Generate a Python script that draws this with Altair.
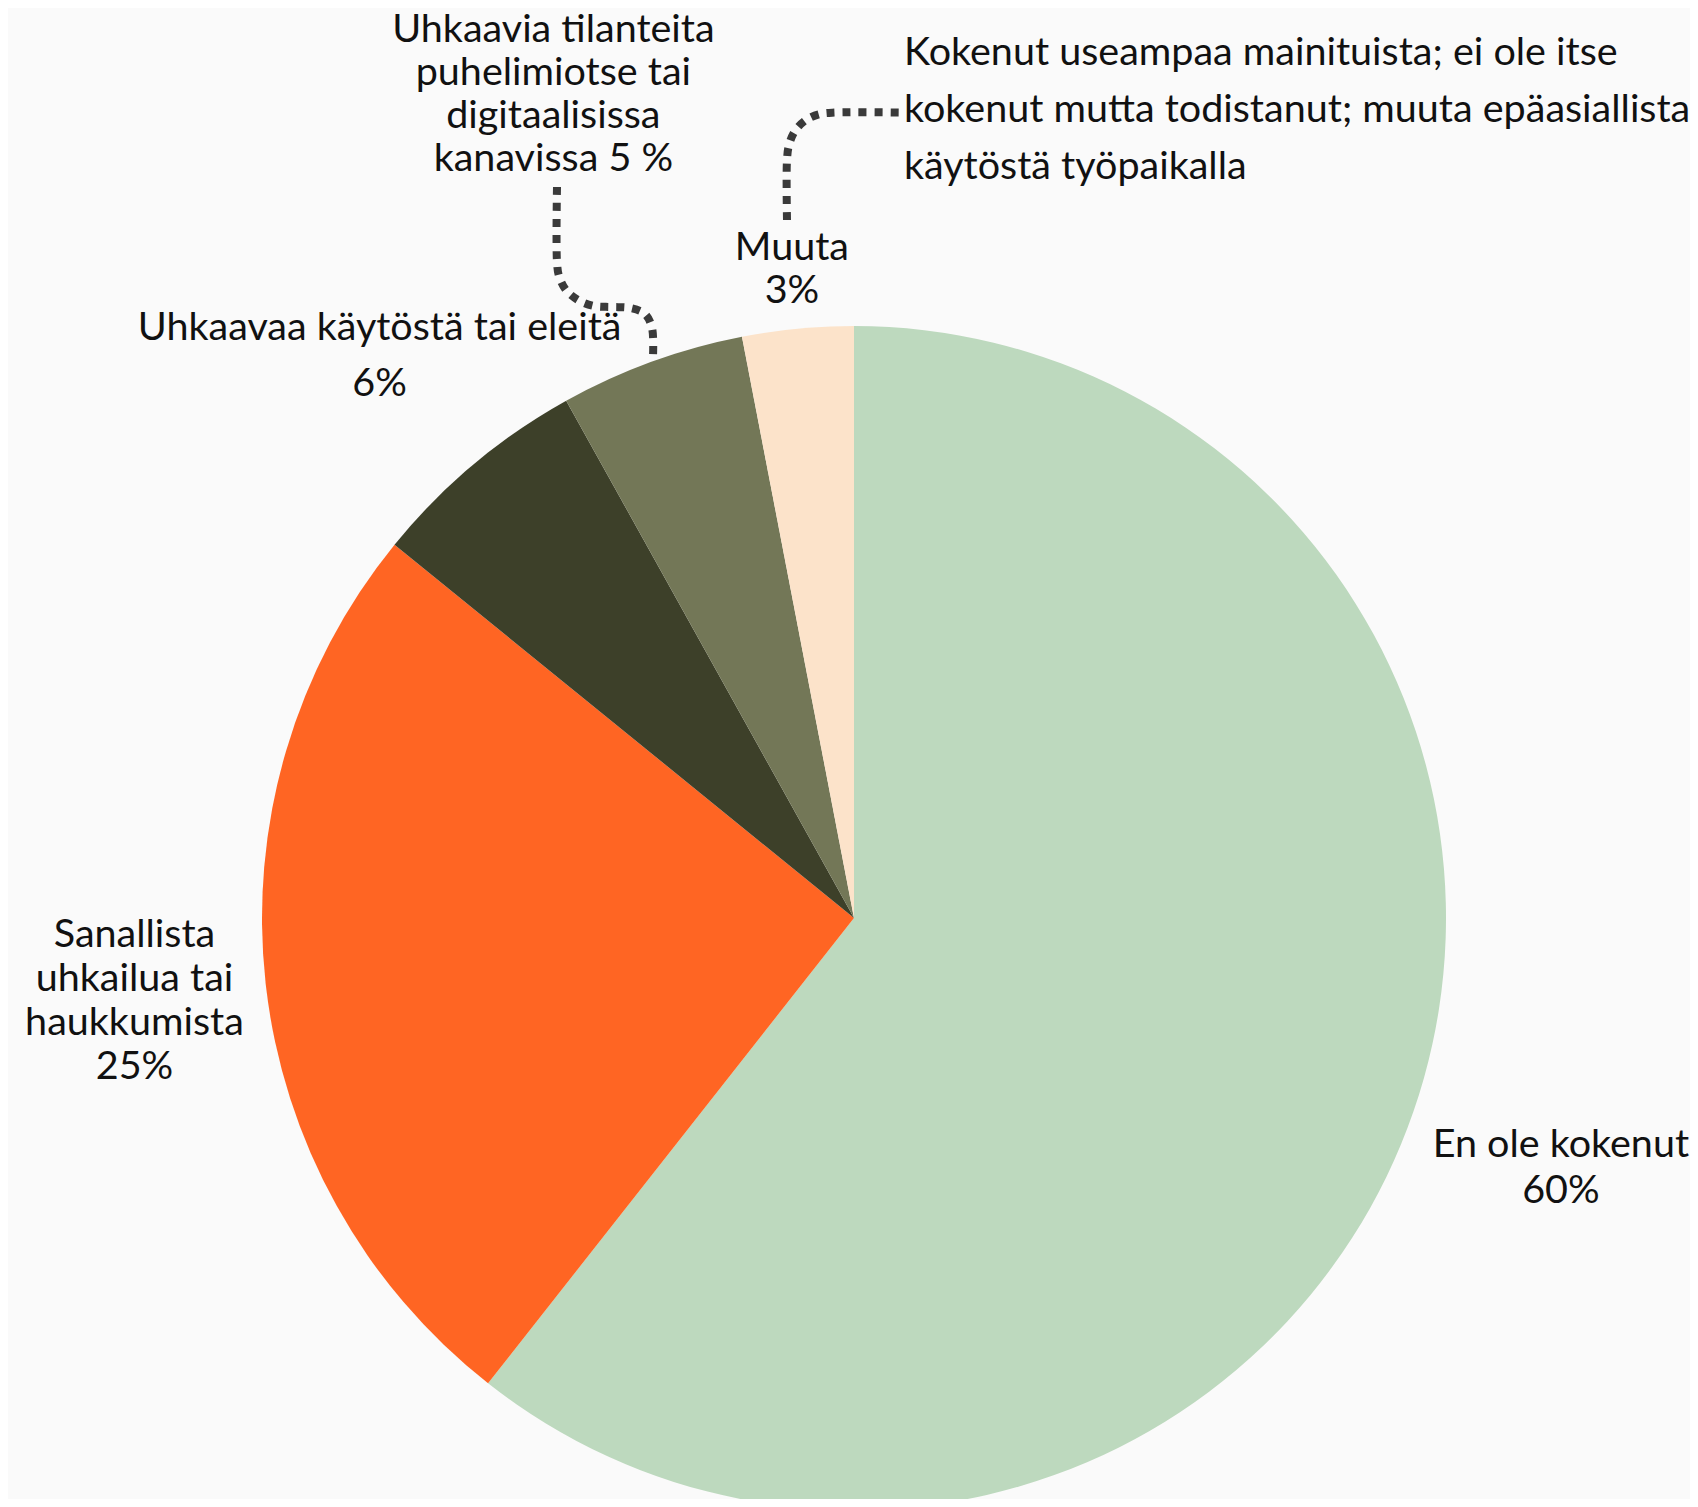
import altair as alt
import pandas as pd

# ---- data ----
categories = [
    "En ole kokenut",
    "Sanallista uhkailua tai haukkumista",
    "Uhkaavaa käytöstä tai eleitä",
    "Uhkaavia tilanteita puhelimiotse tai digitaalisissa kanavissa",
    "Muuta",
]
values = [60, 25, 6, 5, 3]
labels = [
    "En ole kokenut\n60%",
    "Sanallista\nuhkailua tai\nhaukkumista\n25%",
    "Uhkaavaa käytöstä tai eleitä\n6%",
    "Uhkaavia tilanteita\npuhelimiotse tai\ndigitaalisissa\nkanavissa 5 %",
    "Muuta\n3%",
]
note_text = ("Kokenut useampaa mainituista; ei ole itse\n"
             "kokenut mutta todistanut; muuta epäasiallista\n"
             "käytöstä työpaikalla")

# ---- style / layout ----
colors = ["#BDD9BE", "#FF6523", "#3D4029", "#737757", "#FCE3CA"]
label_radius = [748, 724, 738, 879, 653]
label_line_height = [46, 44, 56, 43, 43]
label_extra_dy = [5, 3, 3, 2, 2]
W, H = 1682, 1491
CX, CY = 846, 910
R = 592
FONT = "Lato"
FS = 39.5
TXT = "#111111"
BG = "#FAFAFA"

total = sum(values)

df = pd.DataFrame({
    "idx": list(range(len(categories))),
    "category": categories,
    "value": values,
    "label": labels,
    "label_r": label_radius,
})

theta_scale = alt.Scale(domain=[0, total])

base = alt.Chart(df)

arcs = base.mark_arc(radius=R, stroke=None).encode(
    theta=alt.Theta("value:Q", stack=True, scale=theta_scale),
    color=alt.Color("category:N", scale=alt.Scale(domain=categories, range=colors), legend=None),
    order=alt.Order("idx:Q", sort="ascending"),
    x=alt.value(CX),
    y=alt.value(CY),
)


def text_layer(name, lh, n_lines, extra):
    return base.transform_window(
        cum="sum(value)", sort=[alt.SortField("idx", order="ascending")], frame=[None, 0]
    ).transform_calculate(
        mid="datum.cum - datum.value / 2"
    ).transform_filter(
        alt.FieldEqualPredicate(field="category", equal=name)
    ).mark_text(
        font=FONT, fontSize=FS, lineBreak="\n", lineHeight=lh,
        align="center", baseline="middle", color=TXT,
        dy=-(n_lines - 1) * lh / 2 + extra,
    ).encode(
        theta=alt.Theta("mid:Q", stack=None, scale=theta_scale),
        radius=alt.Radius("label_r:Q", scale=None),
        text="label:N",
        x=alt.value(CX),
        y=alt.value(CY),
    )


text_layers = [
    text_layer(c, lh, lab.count("\n") + 1, ex)
    for c, lh, lab, ex in zip(categories, label_line_height, labels, label_extra_dy)
]

# leader lines (annotation paths, chart pixel coordinates)
leader_x = [549, 549, 551, 558, 570, 586, 604, 622, 637, 644, 645,
            779, 779, 781, 787, 798, 812, 828, 892]
leader_y = [179, 254, 268, 282, 292, 298, 299, 300, 306, 320, 348,
            212, 152, 137, 123, 112, 106, 104.5, 104.5]
leader_g = ["a"] * 11 + ["b"] * 8
lead_df = pd.DataFrame({"x": leader_x, "y": leader_y, "g": leader_g,
                        "i": list(range(len(leader_x)))})

leaders = alt.Chart(lead_df).mark_line(
    interpolate="catmull-rom", strokeDash=[8, 8], strokeWidth=8,
    strokeCap="butt", color="#3A3A3A",
).encode(
    x=alt.X("x:Q", scale=None, axis=None),
    y=alt.Y("y:Q", scale=None, axis=None),
    detail="g:N",
    order="i:Q",
)

note = alt.Chart(pd.DataFrame({"t": [note_text]})).mark_text(
    font=FONT, fontSize=FS, lineBreak="\n", lineHeight=57,
    align="left", baseline="middle", color=TXT, dy=-56,
).encode(
    text="t:N",
    x=alt.value(896),
    y=alt.value(101),
)

chart = alt.layer(arcs, *text_layers, leaders, note).properties(
    width=W, height=H,
    autosize=alt.AutoSizeParams(type="none"),
    padding=0,
    background=BG,
).configure_view(stroke=None)

chart.save("out.html", embed_options={"renderer": "svg", "actions": False})
